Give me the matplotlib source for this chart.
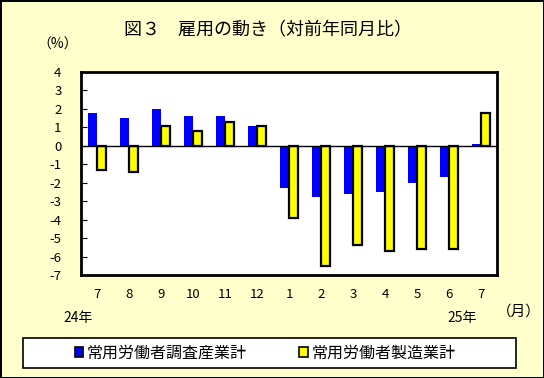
import numpy as np
import matplotlib
matplotlib.use('Agg')
import matplotlib.pyplot as plt
from matplotlib.patches import Rectangle

plt.rcParams['font.family'] = ['Noto Sans CJK JP', 'DejaVu Sans']
plt.rcParams['axes.unicode_minus'] = False

months = ['7', '8', '9', '10', '11', '12', '1', '2', '3', '4', '5', '6', '7']
all_industries = [1.8, 1.5, 2.0, 1.6, 1.6, 1.1, -2.3, -2.8, -2.6, -2.5, -2.0, -1.7, 0.1]
manufacturing = [-1.3, -1.4, 1.1, 0.8, 1.3, 1.1, -3.9, -6.5, -5.4, -5.7, -5.6, -5.6, 1.8]
series_names = ['常用労働者調査産業計', '常用労働者製造業計']
y_ticks = list(range(-7, 5))

bg = '#FFFFCC'
fig = plt.figure(figsize=(5.44, 3.78), dpi=100)
fig.patch.set_facecolor(bg)
fig.patch.set_edgecolor('black')
fig.patch.set_linewidth(2)

ax = fig.add_axes([81 / 544, 1 - 275 / 378, 416 / 544, 203 / 378])
ax.set_facecolor('white')

x = np.arange(len(months))
w = 0.29
ax.bar(x - w / 2, all_industries, w, color='#0000FF', edgecolor='none',
       label=series_names[0], zorder=2)
ax.bar(x + w / 2, manufacturing, w, color='#FFFF00', edgecolor='black',
       linewidth=1.6, label=series_names[1], zorder=3)
ax.axhline(0, color='black', lw=1, zorder=4)

ax.set_xlim(-0.5, len(months) - 0.5)
ax.set_ylim(-7, 4)
ax.set_yticks(y_ticks)
ax.set_yticklabels([str(v) for v in y_ticks])
ax.set_xticks(x)
ax.set_xticklabels(months)
ax.tick_params(axis='y', direction='in', length=4, pad=14, labelsize=9.5)
ax.tick_params(axis='x', length=0, pad=9, labelsize=9.5)
for s in ax.spines.values():
    s.set_linewidth(2)

fig.text(268 / 544, 1 - 30 / 378, '図３　雇用の動き（対前年同月比）',
         ha='center', va='center', fontsize=13)
fig.text(58 / 544, 1 - 45 / 378, '（%）', ha='center', va='center', fontsize=10)
fig.text(78 / 544, 1 - 318 / 378, '24年', ha='center', va='center', fontsize=10)
fig.text(462 / 544, 1 - 318 / 378, '25年', ha='center', va='center', fontsize=10)
fig.text(519 / 544, 1 - 312 / 378, '（月）', ha='center', va='center', fontsize=10.5)

# legend box
fig.patches.append(Rectangle((23 / 544, 1 - 368 / 378), 493 / 544, 30 / 378,
                             transform=fig.transFigure, facecolor='white',
                             edgecolor='black', linewidth=1.2))
leg = fig.legend(loc='center', bbox_to_anchor=(265 / 544, 1 - 353 / 378), ncol=2,
                 frameon=False, fontsize=11.5, handlelength=0.55, handleheight=0.55,
                 handletextpad=0.2, columnspacing=3.3)
for h in leg.legend_handles:
    h.set_edgecolor('black')
    h.set_linewidth(1.2)

fig.savefig('out.png', dpi=100, facecolor=bg, edgecolor='black')
